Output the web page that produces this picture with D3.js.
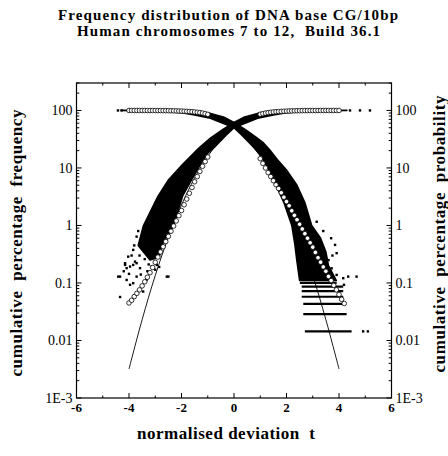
<!DOCTYPE html>
<html>
<head>
<meta charset="utf-8">
<script src="https://cdn.jsdelivr.net/npm/d3@7"></script>
<style>
  body { margin: 0; background: #fff; }
  svg text { font-family: "Liberation Serif", "Times New Roman", serif; fill: #000; }
</style>
</head>
<body>
<div id="container"></div>
<script>
/* CONSTANTS AND GLOBALS */
const width = 448,
  height = 456,
  margin = { top: 83, bottom: 58, left: 76.5, right: 56.5 };

/* DATA */
// tick values
const xMajor = [-6, -4, -2, 0, 2, 4, 6];
const xMinor = [-5, -3, -1, 1, 3, 5];
const yMajor = [0.001, 0.01, 0.1, 1, 10, 100];
const yLabels = ["1E-3", "0.01", "0.1", "1", "10", "100"];

// open circles: [t, cumulative %]
const circLowerLeft = [[-4.0,0.045],[-3.9,0.050],[-3.8,0.058],[-3.7,0.066],[-3.6,0.076],[-3.5,0.089],[-3.4,0.105],[-3.3,0.126],[-3.2,0.151],[-3.1,0.186],[-3.0,0.229],[-2.9,0.282],[-2.8,0.347],[-2.7,0.427],[-2.6,0.525],[-2.5,0.646],[-2.4,0.794],[-2.3,0.977],[-2.2,1.20],[-2.1,1.48],[-2.0,1.82],[-1.9,2.29],[-1.8,2.88],[-1.7,3.63],[-1.6,4.57],[-1.5,5.75],[-1.4,7.08],[-1.3,8.71],[-1.2,10.7],[-1.1,12.9],[-1.0,15.5]];
const circLowerRight = [[1.0,14.5],[1.1,12.0],[1.2,10.0],[1.3,8.3],[1.4,7.1],[1.5,6.0],[1.6,5.1],[1.7,4.4],[1.8,3.7],[1.9,3.1],[2.0,2.6],[2.1,2.2],[2.2,1.8],[2.3,1.5],[2.4,1.26],[2.5,1.05],[2.6,0.87],[2.7,0.72],[2.8,0.60],[2.9,0.50],[3.0,0.42],[3.1,0.34],[3.2,0.275],[3.3,0.23],[3.4,0.19],[3.5,0.16],[3.6,0.13],[3.7,0.11],[3.8,0.091],[3.9,0.076],[4.0,0.063],[4.1,0.052],[4.2,0.044]];
const circUpperLeft = [[-4.0,99.96],[-3.9,99.95],[-3.8,99.94],[-3.7,99.93],[-3.6,99.91],[-3.5,99.89],[-3.4,99.86],[-3.3,99.83],[-3.2,99.8],[-3.1,99.76],[-3.0,99.7],[-2.9,99.6],[-2.8,99.5],[-2.7,99.4],[-2.6,99.2],[-2.5,99.0],[-2.4,98.8],[-2.3,98.5],[-2.2,98.2],[-2.1,97.8],[-2.0,97.4],[-1.9,96.9],[-1.8,96.3],[-1.7,95.6],[-1.6,94.9],[-1.5,94.0],[-1.4,93.0],[-1.3,91.7],[-1.2,90.0],[-1.1,88.0],[-1.0,85.5]];
const circUpperRight = [[1.0,86.0],[1.1,88.0],[1.2,90.0],[1.3,91.7],[1.4,93.0],[1.5,94.0],[1.6,94.9],[1.7,95.6],[1.8,96.3],[1.9,96.9],[2.0,97.4],[2.1,97.8],[2.2,98.2],[2.3,98.5],[2.4,98.8],[2.5,99.0],[2.6,99.2],[2.7,99.4],[2.8,99.5],[2.9,99.6],[3.0,99.7],[3.1,99.76],[3.2,99.8],[3.3,99.83],[3.4,99.86],[3.5,99.89],[3.6,99.91],[3.7,99.93],[3.8,99.94],[3.9,99.95],[4.0,99.96]];

// thin curves (normal cumulative probability, %)
const probFromLeft = [[-4,0.0032],[-3.5,0.023],[-3,0.135],[-2.5,0.62],[-2,2.28],[-1.5,6.7],[-1,15.9],[-0.5,30.9],[0,50],[0.5,69.1],[1,84.1],[1.5,93.3],[2,97.7],[2.5,99.38],[3,99.87],[3.5,99.98],[4,99.997]];
const probFromRight = [[-4,99.997],[-3.5,99.98],[-3,99.87],[-2.5,99.38],[-2,97.7],[-1.5,93.3],[-1,84.1],[-0.5,69.1],[0,50],[0.5,30.9],[1,15.9],[1.5,6.7],[2,2.28],[2.5,0.62],[3,0.135],[3.5,0.023],[4,0.0032]];

// dense black clouds, outline [t, %]
const cloudRising = [[-3.2,0.25],[-3.65,0.45],[-3.45,1.0],[-2.9,3.2],[-2.5,6.2],[-2.0,11],[-1.35,22],[-0.9,33],[-0.45,46],[0.0,62],[0.4,77],[0.9,89],[1.5,96],[2.5,99.5],[3.5,100.2],[4.3,100.4],
  [4.3,99.6],[3.0,97.5],[2.0,91],[1.5,83],[0.9,73],[0.4,59],[0.0,50],[-0.3,37],[-0.7,24],[-1.0,18],[-1.25,12],[-1.6,6.4],[-1.95,3.3],[-2.3,1.0],[-2.7,0.5],[-2.85,0.28]];
const cloudFalling = [[-4.3,100.4],[-3.5,100.2],[-2.5,99.5],[-1.5,96],[-0.9,89],[-0.4,77],[0.0,62],[0.45,46],[0.85,34],[1.1,28],[1.35,21],[1.65,14],[2.0,9.2],[2.4,5],[2.7,2.5],[2.96,1.0],[3.3,0.6],[3.5,0.35],[3.6,0.2],[3.9,0.11],
  [2.5,0.11],[2.44,0.17],[2.39,0.25],[2.32,0.46],[2.2,1.0],[1.9,2.5],[1.6,5],[1.3,10],[1.0,17],[0.7,24],[0.3,37],[0.0,50],[-0.4,59],[-0.9,73],[-1.5,83],[-2.0,91],[-3.0,97.5],[-4.3,99.6]];

// scattered black points
const dotsLeft = [[-4.41,0.129],[-4.34,0.129],[-4.15,0.221],[-4.09,0.181],[-3.96,0.193],[-3.84,0.206],[-3.71,0.221],[-3.58,0.181],[-4.34,0.057],[-4.09,0.113],[-3.96,0.093],[-3.84,0.099],[-3.71,0.129],[-3.52,0.087],[-3.46,0.071],[-3.33,0.113],[-3.14,0.193],[-2.50,0.129],[-2.94,0.206],[-4.15,0.206],[-4.03,0.287],[-3.84,0.376],[-3.71,0.64],[-3.58,0.49],[-3.77,0.235],[-2.56,0.129],[-3.0,0.17],[-2.85,0.19],[-3.9,0.3],[-3.6,0.3],[-3.3,0.16],[-4.2,0.16],[-3.8,0.45],[-3.65,0.8],[-3.55,0.14],[-3.25,0.21],[-4.0,0.144],[-3.4,0.26]];
const dotsRight = [[3.15,1.16],[3.85,0.46],[3.91,0.33],[3.72,0.18],[4.16,0.121],[4.35,0.129],[4.67,0.129],[4.19,0.093],[3.91,0.138],[3.6,0.25],[3.7,0.6],[3.4,0.8],[3.75,0.3],[4.92,0.0144],[5.1,0.0144]];
const dotsTop = [[-4.42,100],[-4.28,100],[4.42,100],[4.8,100],[5.18,100]];

// horizontal runs of points at the lowest counts
const stripeLevel = [0.0144, 0.0288, 0.0432, 0.0576, 0.072, 0.0864, 0.1008];
const stripeFrom = [2.70, 2.64, 2.64, 2.58, 2.58, 2.58, 2.51];
const stripeTo = [4.48, 4.29, 4.23, 4.16, 4.16, 4.16, 3.91];

/* SCALES */
const xScale = d3.scaleLinear()
  .domain([-6, 6])
  .range([margin.left, width - margin.right]);

const yScale = d3.scaleLog()
  .domain([0.001, 300])
  .range([height - margin.bottom, margin.top]);

/* SVG */
const svg = d3.select("#container")
  .append("svg")
  .attr("width", width)
  .attr("height", height)
  .attr("font-family", "Liberation Serif, Times New Roman, serif");

const plot = svg.append("g");

// black clouds
const cloudLine = d3.line()
  .x(d => xScale(d[0]))
  .y(d => yScale(d[1]))
  .curve(d3.curveLinearClosed);

plot.selectAll(".cloud")
  .data([cloudRising, cloudFalling])
  .join("path")
  .attr("class", "cloud")
  .attr("d", cloudLine)
  .attr("fill", "#000")
  .attr("stroke", "#000")
  .attr("stroke-width", 1.5)
  .attr("stroke-linejoin", "round");

// stripes
plot.selectAll(".stripe")
  .data(stripeLevel)
  .join("line")
  .attr("class", "stripe")
  .attr("x1", (d, i) => xScale(stripeFrom[i]))
  .attr("x2", (d, i) => xScale(stripeTo[i]))
  .attr("y1", d => yScale(d))
  .attr("y2", d => yScale(d))
  .attr("stroke", "#000")
  .attr("stroke-width", 2.2);

// scattered dots
plot.selectAll(".dot")
  .data(dotsLeft.concat(dotsRight, dotsTop))
  .join("rect")
  .attr("class", "dot")
  .attr("x", d => xScale(d[0]) - 1.2)
  .attr("y", d => yScale(d[1]) - 1.2)
  .attr("width", 2.4)
  .attr("height", 2.4)
  .attr("fill", "#000");

// thin probability curves
const curve = d3.line()
  .x(d => xScale(d[0]))
  .y(d => yScale(d[1]))
  .curve(d3.curveCatmullRom);

plot.selectAll(".prob")
  .data([probFromLeft, probFromRight])
  .join("path")
  .attr("class", "prob")
  .attr("d", curve)
  .attr("fill", "none")
  .attr("stroke", "#000")
  .attr("stroke-width", 0.9);

// open circles
plot.selectAll(".circ")
  .data(circLowerLeft.concat(circLowerRight, circUpperLeft, circUpperRight))
  .join("circle")
  .attr("class", "circ")
  .attr("cx", d => xScale(d[0]))
  .attr("cy", d => yScale(d[1]))
  .attr("r", 2.3)
  .attr("fill", "#fff")
  .attr("stroke", "#000")
  .attr("stroke-width", 0.8);

/* AXES */
const x0 = margin.left, x1 = width - margin.right;
const y0 = height - margin.bottom, y1 = margin.top;

svg.append("rect")
  .attr("x", x0).attr("y", y1)
  .attr("width", x1 - x0).attr("height", y0 - y1)
  .attr("fill", "none")
  .attr("stroke", "#000")
  .attr("stroke-width", 1.2);

const yMinor = yScale.ticks().filter(d => !yMajor.some(m => Math.abs(m - d) < 1e-9));

function tickMarks(g, data, pos, len, dir) {
  g.selectAll(null).data(data).join("line")
    .attr("stroke", "#000").attr("stroke-width", 1)
    .each(function(d) {
      const s = d3.select(this);
      if (dir === "up" || dir === "down") {
        const yy = dir === "up" ? y0 : y1, k = dir === "up" ? -1 : 1;
        s.attr("x1", pos(d)).attr("x2", pos(d)).attr("y1", yy).attr("y2", yy + k * len);
      } else {
        const xx = dir === "right" ? x0 : x1, k = dir === "right" ? 1 : -1;
        s.attr("y1", pos(d)).attr("y2", pos(d)).attr("x1", xx).attr("x2", xx + k * len);
      }
    });
}

const ticks = svg.append("g");
tickMarks(ticks, xMajor, xScale, 5, "up");
tickMarks(ticks, xMinor, xScale, 2.5, "up");
tickMarks(ticks, xMajor, xScale, 5, "down");
tickMarks(ticks, xMinor, xScale, 2.5, "down");
tickMarks(ticks, yMajor, yScale, 5, "right");
tickMarks(ticks, yMinor, yScale, 2.8, "right");
tickMarks(ticks, yMajor, yScale, 5, "left");
tickMarks(ticks, yMinor, yScale, 2.8, "left");

// tick labels
svg.selectAll(".xlab")
  .data(xMajor)
  .join("text")
  .attr("class", "xlab")
  .attr("x", d => xScale(d))
  .attr("y", y0 + 14)
  .attr("text-anchor", "middle")
  .attr("font-weight", "bold")
  .attr("font-size", 13)
  .text(d => d);

svg.selectAll(".ylabL")
  .data(yMajor)
  .join("text")
  .attr("class", "ylabL")
  .attr("x", x0 - 4)
  .attr("y", d => yScale(d))
  .attr("dy", "0.35em")
  .attr("text-anchor", "end")
  .attr("font-size", 14)
  .text((d, i) => yLabels[i]);

svg.selectAll(".ylabR")
  .data(yMajor)
  .join("text")
  .attr("class", "ylabR")
  .attr("x", x1 + 4)
  .attr("y", d => yScale(d))
  .attr("dy", "0.35em")
  .attr("text-anchor", "start")
  .attr("font-size", 14)
  .text((d, i) => yLabels[i]);

/* TITLES */
svg.append("text")
  .attr("x", 228).attr("y", 20)
  .attr("text-anchor", "middle")
  .attr("font-weight", "bold").attr("font-size", 15)
  .attr("textLength", 340).attr("lengthAdjust", "spacing")
  .text("Frequency distribution of DNA base CG/10bp");

svg.append("text")
  .attr("x", 228.5).attr("y", 36)
  .attr("text-anchor", "middle")
  .attr("font-weight", "bold").attr("font-size", 15)
  .attr("textLength", 303).attr("lengthAdjust", "spacing")
  .attr("xml:space", "preserve")
  .text("Human chromosomes 7 to 12,  Build 36.1");

svg.append("text")
  .attr("x", 226).attr("y", 439)
  .attr("text-anchor", "middle")
  .attr("font-weight", "bold").attr("font-size", 17)
  .attr("textLength", 178).attr("lengthAdjust", "spacing")
  .attr("xml:space", "preserve")
  .text("normalised deviation  t");

svg.append("text")
  .attr("transform", "translate(22,243) rotate(-90)")
  .attr("text-anchor", "middle")
  .attr("font-weight", "bold").attr("font-size", 17)
  .attr("textLength", 267).attr("lengthAdjust", "spacing")
  .attr("xml:space", "preserve")
  .text("cumulative  percentage  frequency");

svg.append("text")
  .attr("transform", "translate(445,234) rotate(-90)")
  .attr("text-anchor", "middle")
  .attr("font-weight", "bold").attr("font-size", 17)
  .attr("textLength", 277).attr("lengthAdjust", "spacing")
  .attr("xml:space", "preserve")
  .text("cumulative  percentage  probability");
</script>
</body>
</html>
